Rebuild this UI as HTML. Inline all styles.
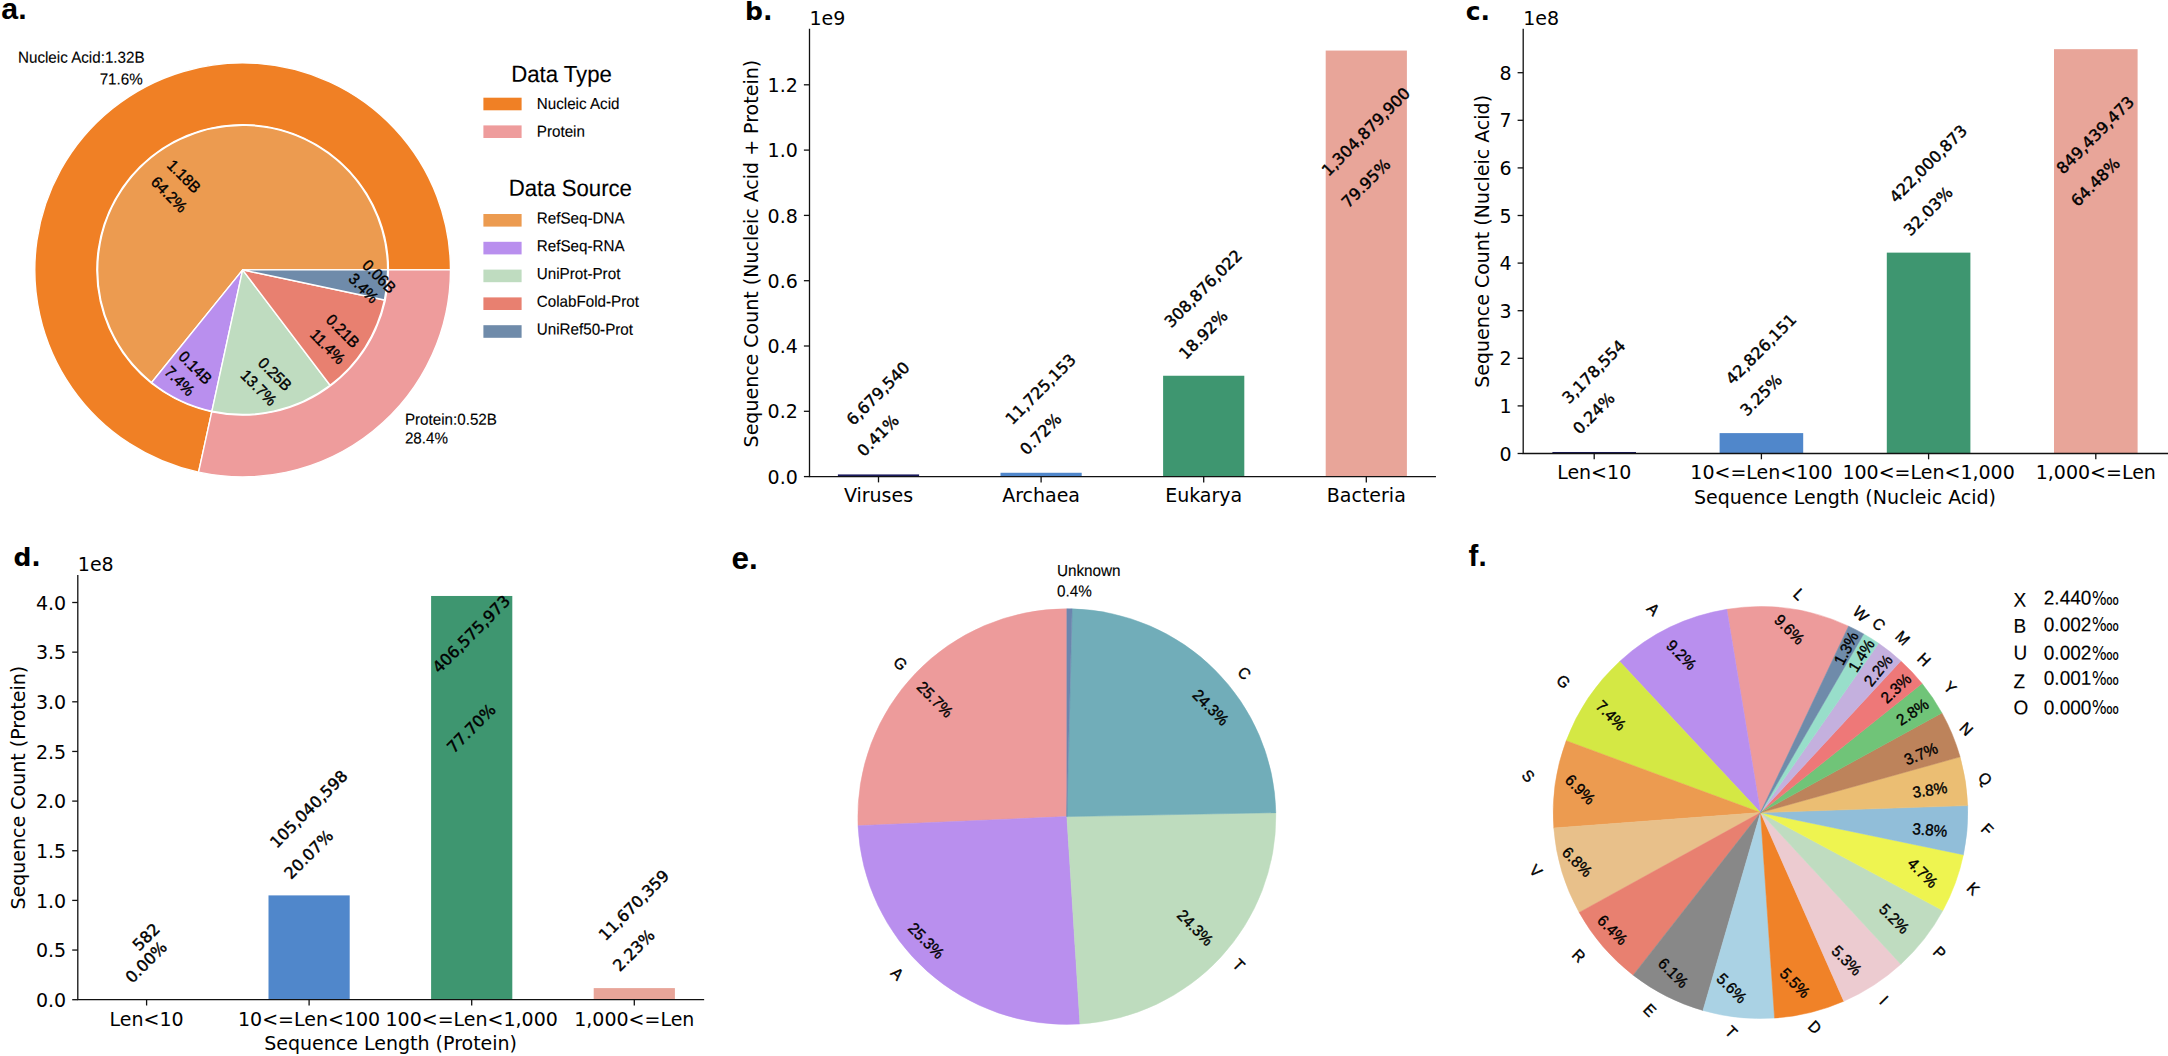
<!DOCTYPE html>
<html lang="en"><head><meta charset="utf-8"><title>Figure</title>
<style>html,body{margin:0;padding:0;background:#fff}svg{display:block}text{fill:#000}</style></head>
<body><svg width="2168" height="1056" viewBox="0 0 2168 1056">
<rect width="2168" height="1056" fill="#fff"/>
<text x="1.30" y="19.30" font-size="30.3" text-anchor="start" font-family="Liberation Sans, Arial, Helvetica, sans-serif" font-weight="bold">a.</text>
<text x="745.10" y="19.60" font-size="25" text-anchor="start" font-family="DejaVu Sans, Liberation Sans, sans-serif" font-weight="bold">b.</text>
<text x="1465.70" y="19.50" font-size="25" text-anchor="start" font-family="DejaVu Sans, Liberation Sans, sans-serif" font-weight="bold">c.</text>
<text x="13.40" y="566.40" font-size="25" text-anchor="start" font-family="DejaVu Sans, Liberation Sans, sans-serif" font-weight="bold">d.</text>
<text x="731.40" y="569.10" font-size="31.5" text-anchor="start" font-family="Liberation Sans, Arial, Helvetica, sans-serif" font-weight="bold">e.</text>
<text x="1468.60" y="565.70" font-size="29.5" text-anchor="start" font-family="Liberation Sans, Arial, Helvetica, sans-serif" font-weight="bold">f.</text>
<path d="M388.45,269.90 L450.50,269.90 A207.85,207.00 0 1 0 198.58,472.19 L211.74,411.80 A145.80,145.20 0 1 1 388.45,269.90 Z" fill="#F08025" stroke="#fff" stroke-width="1.4" stroke-linejoin="round"/>
<path d="M211.74,411.80 L198.58,472.19 A207.85,207.00 0 0 0 450.50,269.90 L388.45,269.90 A145.80,145.20 0 0 1 211.74,411.80 Z" fill="#EE9C9C" stroke="#fff" stroke-width="1.4" stroke-linejoin="round"/>
<path d="M242.65,269.90 L387.65,269.90 A145.00,144.60 0 1 0 151.63,382.47 Z" fill="#EC9B50" stroke="#fff" stroke-width="1.4" stroke-linejoin="round"/>
<path d="M242.65,269.90 L151.63,382.47 A145.00,144.60 0 0 0 211.91,411.21 Z" fill="#B98FEE" stroke="#fff" stroke-width="1.4" stroke-linejoin="round"/>
<path d="M242.65,269.90 L211.91,411.21 A145.00,144.60 0 0 0 330.07,385.26 Z" fill="#BFDCC0" stroke="#fff" stroke-width="1.4" stroke-linejoin="round"/>
<path d="M242.65,269.90 L330.07,385.26 A145.00,144.60 0 0 0 384.48,299.96 Z" fill="#E88070" stroke="#fff" stroke-width="1.4" stroke-linejoin="round"/>
<path d="M242.65,269.90 L384.48,299.96 A145.00,144.60 0 0 0 387.65,269.90 Z" fill="#6F8BAA" stroke="#fff" stroke-width="1.4" stroke-linejoin="round"/>
<text transform="translate(184.00,176.30) rotate(45) scale(1,1.045)" x="0" y="5.23" font-size="15.2" text-anchor="middle" font-family="Liberation Sans, Arial, Helvetica, sans-serif" stroke="#000" stroke-width="0.35">1.18B</text>
<text transform="translate(169.10,194.40) rotate(45) scale(1,1.045)" x="0" y="5.23" font-size="15.2" text-anchor="middle" font-family="Liberation Sans, Arial, Helvetica, sans-serif" stroke="#000" stroke-width="0.35">64.2%</text>
<text transform="translate(195.30,367.60) rotate(45) scale(1,1.045)" x="0" y="5.23" font-size="15.2" text-anchor="middle" font-family="Liberation Sans, Arial, Helvetica, sans-serif" stroke="#000" stroke-width="0.35">0.14B</text>
<text transform="translate(179.60,381.00) rotate(45) scale(1,1.045)" x="0" y="5.23" font-size="15.2" text-anchor="middle" font-family="Liberation Sans, Arial, Helvetica, sans-serif" stroke="#000" stroke-width="0.35">7.4%</text>
<text transform="translate(274.90,374.10) rotate(45) scale(1,1.045)" x="0" y="5.23" font-size="15.2" text-anchor="middle" font-family="Liberation Sans, Arial, Helvetica, sans-serif" stroke="#000" stroke-width="0.35">0.25B</text>
<text transform="translate(258.70,387.70) rotate(45) scale(1,1.045)" x="0" y="5.23" font-size="15.2" text-anchor="middle" font-family="Liberation Sans, Arial, Helvetica, sans-serif" stroke="#000" stroke-width="0.35">13.7%</text>
<text transform="translate(342.80,331.00) rotate(45) scale(1,1.045)" x="0" y="5.23" font-size="15.2" text-anchor="middle" font-family="Liberation Sans, Arial, Helvetica, sans-serif" stroke="#000" stroke-width="0.35">0.21B</text>
<text transform="translate(327.60,346.50) rotate(45) scale(1,1.045)" x="0" y="5.23" font-size="15.2" text-anchor="middle" font-family="Liberation Sans, Arial, Helvetica, sans-serif" stroke="#000" stroke-width="0.35">11.4%</text>
<text transform="translate(379.20,276.50) rotate(45) scale(1,1.045)" x="0" y="5.23" font-size="15.2" text-anchor="middle" font-family="Liberation Sans, Arial, Helvetica, sans-serif" stroke="#000" stroke-width="0.35">0.06B</text>
<text transform="translate(363.50,288.20) rotate(45) scale(1,1.045)" x="0" y="5.23" font-size="15.2" text-anchor="middle" font-family="Liberation Sans, Arial, Helvetica, sans-serif" stroke="#000" stroke-width="0.35">3.4%</text>
<text transform="translate(144.60,62.80) rotate(0.03) scale(1,1.045)" font-size="15.2" text-anchor="end" font-family="Liberation Sans, Arial, Helvetica, sans-serif" stroke="#000" stroke-width="0.12">Nucleic Acid:1.32B</text>
<text transform="translate(142.70,84.50) rotate(0.03) scale(1,1.045)" font-size="15.2" text-anchor="end" font-family="Liberation Sans, Arial, Helvetica, sans-serif" stroke="#000" stroke-width="0.12">71.6%</text>
<text transform="translate(404.90,424.70) rotate(0.03) scale(1,1.045)" font-size="15.2" text-anchor="start" font-family="Liberation Sans, Arial, Helvetica, sans-serif" stroke="#000" stroke-width="0.12">Protein:0.52B</text>
<text transform="translate(404.90,443.40) rotate(0.03) scale(1,1.045)" font-size="15.2" text-anchor="start" font-family="Liberation Sans, Arial, Helvetica, sans-serif" stroke="#000" stroke-width="0.12">28.4%</text>
<text transform="translate(561.50,81.90) rotate(0.03) scale(1,1.045)" font-size="22.2" text-anchor="middle" font-family="Liberation Sans, Arial, Helvetica, sans-serif" stroke="#000" stroke-width="0.12">Data Type</text>
<rect x="483.4" y="97.70" width="38.2" height="12.6" fill="#F08025"/>
<text transform="translate(536.80,109.00) rotate(0.03) scale(1,1.045)" font-size="15.2" text-anchor="start" font-family="Liberation Sans, Arial, Helvetica, sans-serif" stroke="#000" stroke-width="0.12">Nucleic Acid</text>
<rect x="483.4" y="125.40" width="38.2" height="12.6" fill="#EE9C9C"/>
<text transform="translate(536.80,136.70) rotate(0.03) scale(1,1.045)" font-size="15.2" text-anchor="start" font-family="Liberation Sans, Arial, Helvetica, sans-serif" stroke="#000" stroke-width="0.12">Protein</text>
<text transform="translate(570.30,195.90) rotate(0.03) scale(1,1.045)" font-size="22.2" text-anchor="middle" font-family="Liberation Sans, Arial, Helvetica, sans-serif" stroke="#000" stroke-width="0.12">Data Source</text>
<rect x="483.4" y="214.00" width="38.2" height="12.6" fill="#EC9B50"/>
<text transform="translate(536.80,223.40) rotate(0.03) scale(1,1.045)" font-size="15.2" text-anchor="start" font-family="Liberation Sans, Arial, Helvetica, sans-serif" stroke="#000" stroke-width="0.12">RefSeq-DNA</text>
<rect x="483.4" y="241.80" width="38.2" height="12.6" fill="#B98FEE"/>
<text transform="translate(536.80,251.20) rotate(0.03) scale(1,1.045)" font-size="15.2" text-anchor="start" font-family="Liberation Sans, Arial, Helvetica, sans-serif" stroke="#000" stroke-width="0.12">RefSeq-RNA</text>
<rect x="483.4" y="269.60" width="38.2" height="12.6" fill="#BFDCC0"/>
<text transform="translate(536.80,279.00) rotate(0.03) scale(1,1.045)" font-size="15.2" text-anchor="start" font-family="Liberation Sans, Arial, Helvetica, sans-serif" stroke="#000" stroke-width="0.12">UniProt-Prot</text>
<rect x="483.4" y="297.40" width="38.2" height="12.6" fill="#E88070"/>
<text transform="translate(536.80,306.80) rotate(0.03) scale(1,1.045)" font-size="15.2" text-anchor="start" font-family="Liberation Sans, Arial, Helvetica, sans-serif" stroke="#000" stroke-width="0.12">ColabFold-Prot</text>
<rect x="483.4" y="325.20" width="38.2" height="12.6" fill="#6F8BAA"/>
<text transform="translate(536.80,334.60) rotate(0.03) scale(1,1.045)" font-size="15.2" text-anchor="start" font-family="Liberation Sans, Arial, Helvetica, sans-serif" stroke="#000" stroke-width="0.12">UniRef50-Prot</text>
<rect x="837.90" y="474.42" width="81.20" height="2.18" fill="#1a1a5e"/>
<rect x="1000.50" y="472.77" width="81.20" height="3.83" fill="#5087CB"/>
<rect x="1163.10" y="375.75" width="81.20" height="100.85" fill="#3E9670"/>
<rect x="1325.70" y="50.56" width="81.20" height="426.04" fill="#E8A599"/>
<path d="M809.50,29.30 V476.60 H1435.30" fill="none" stroke="#111" stroke-width="1.3" stroke-linecap="square"/>
<path d="M809.50,476.60 h-5.6" stroke="#111" stroke-width="1.3"/>
<text x="797.80" y="483.70" font-size="19" text-anchor="end" font-family="DejaVu Sans, Liberation Sans, sans-serif">0.0</text>
<path d="M809.50,411.30 h-5.6" stroke="#111" stroke-width="1.3"/>
<text x="797.80" y="418.40" font-size="19" text-anchor="end" font-family="DejaVu Sans, Liberation Sans, sans-serif">0.2</text>
<path d="M809.50,346.00 h-5.6" stroke="#111" stroke-width="1.3"/>
<text x="797.80" y="353.10" font-size="19" text-anchor="end" font-family="DejaVu Sans, Liberation Sans, sans-serif">0.4</text>
<path d="M809.50,280.70 h-5.6" stroke="#111" stroke-width="1.3"/>
<text x="797.80" y="287.80" font-size="19" text-anchor="end" font-family="DejaVu Sans, Liberation Sans, sans-serif">0.6</text>
<path d="M809.50,215.40 h-5.6" stroke="#111" stroke-width="1.3"/>
<text x="797.80" y="222.50" font-size="19" text-anchor="end" font-family="DejaVu Sans, Liberation Sans, sans-serif">0.8</text>
<path d="M809.50,150.10 h-5.6" stroke="#111" stroke-width="1.3"/>
<text x="797.80" y="157.20" font-size="19" text-anchor="end" font-family="DejaVu Sans, Liberation Sans, sans-serif">1.0</text>
<path d="M809.50,84.80 h-5.6" stroke="#111" stroke-width="1.3"/>
<text x="797.80" y="91.90" font-size="19" text-anchor="end" font-family="DejaVu Sans, Liberation Sans, sans-serif">1.2</text>
<path d="M878.50,476.60 v5.8" stroke="#111" stroke-width="1.3"/>
<text x="878.50" y="502.10" font-size="19" text-anchor="middle" font-family="DejaVu Sans, Liberation Sans, sans-serif">Viruses</text>
<path d="M1041.10,476.60 v5.8" stroke="#111" stroke-width="1.3"/>
<text x="1041.10" y="502.10" font-size="19" text-anchor="middle" font-family="DejaVu Sans, Liberation Sans, sans-serif">Archaea</text>
<path d="M1203.70,476.60 v5.8" stroke="#111" stroke-width="1.3"/>
<text x="1203.70" y="502.10" font-size="19" text-anchor="middle" font-family="DejaVu Sans, Liberation Sans, sans-serif">Eukarya</text>
<path d="M1366.30,476.60 v5.8" stroke="#111" stroke-width="1.3"/>
<text x="1366.30" y="502.10" font-size="19" text-anchor="middle" font-family="DejaVu Sans, Liberation Sans, sans-serif">Bacteria</text>
<text x="809.50" y="24.60" font-size="19" text-anchor="start" font-family="DejaVu Sans, Liberation Sans, sans-serif">1e9</text>
<text transform="translate(757.50,253.65) rotate(-90)" font-size="19" text-anchor="middle" font-family="DejaVu Sans, Liberation Sans, sans-serif">Sequence Count (Nucleic Acid + Protein)</text>
<text transform="translate(877.90,393.30) rotate(-45)" x="0" y="5.84" font-size="16.0" text-anchor="middle" font-family="DejaVu Sans, Liberation Sans, sans-serif" stroke="#000" stroke-width="0.42">6,679,540</text>
<text transform="translate(877.90,435.30) rotate(-45)" x="0" y="5.84" font-size="16.0" text-anchor="middle" font-family="DejaVu Sans, Liberation Sans, sans-serif" stroke="#000" stroke-width="0.42">0.41%</text>
<text transform="translate(1040.50,389.00) rotate(-45)" x="0" y="5.84" font-size="16.0" text-anchor="middle" font-family="DejaVu Sans, Liberation Sans, sans-serif" stroke="#000" stroke-width="0.42">11,725,153</text>
<text transform="translate(1040.50,433.90) rotate(-45)" x="0" y="5.84" font-size="16.0" text-anchor="middle" font-family="DejaVu Sans, Liberation Sans, sans-serif" stroke="#000" stroke-width="0.42">0.72%</text>
<text transform="translate(1203.10,288.30) rotate(-45)" x="0" y="5.84" font-size="16.0" text-anchor="middle" font-family="DejaVu Sans, Liberation Sans, sans-serif" stroke="#000" stroke-width="0.42">308,876,022</text>
<text transform="translate(1203.10,334.50) rotate(-45)" x="0" y="5.84" font-size="16.0" text-anchor="middle" font-family="DejaVu Sans, Liberation Sans, sans-serif" stroke="#000" stroke-width="0.42">18.92%</text>
<text transform="translate(1365.70,131.50) rotate(-45)" x="0" y="5.84" font-size="16.0" text-anchor="middle" font-family="DejaVu Sans, Liberation Sans, sans-serif" stroke="#000" stroke-width="0.42">1,304,879,900</text>
<text transform="translate(1365.70,183.00) rotate(-45)" x="0" y="5.84" font-size="16.0" text-anchor="middle" font-family="DejaVu Sans, Liberation Sans, sans-serif" stroke="#000" stroke-width="0.42">79.95%</text>
<rect x="1552.40" y="451.99" width="83.60" height="1.51" fill="#1a1a5e"/>
<rect x="1719.60" y="433.11" width="83.60" height="20.39" fill="#5087CB"/>
<rect x="1886.80" y="252.63" width="83.60" height="200.87" fill="#3E9670"/>
<rect x="2054.00" y="49.17" width="83.60" height="404.33" fill="#E8A599"/>
<path d="M1523.20,29.30 V453.50 H2168.00" fill="none" stroke="#111" stroke-width="1.3" stroke-linecap="square"/>
<path d="M1523.20,453.50 h-5.6" stroke="#111" stroke-width="1.3"/>
<text x="1511.50" y="460.60" font-size="19" text-anchor="end" font-family="DejaVu Sans, Liberation Sans, sans-serif">0</text>
<path d="M1523.20,405.90 h-5.6" stroke="#111" stroke-width="1.3"/>
<text x="1511.50" y="413.00" font-size="19" text-anchor="end" font-family="DejaVu Sans, Liberation Sans, sans-serif">1</text>
<path d="M1523.20,358.30 h-5.6" stroke="#111" stroke-width="1.3"/>
<text x="1511.50" y="365.40" font-size="19" text-anchor="end" font-family="DejaVu Sans, Liberation Sans, sans-serif">2</text>
<path d="M1523.20,310.70 h-5.6" stroke="#111" stroke-width="1.3"/>
<text x="1511.50" y="317.80" font-size="19" text-anchor="end" font-family="DejaVu Sans, Liberation Sans, sans-serif">3</text>
<path d="M1523.20,263.10 h-5.6" stroke="#111" stroke-width="1.3"/>
<text x="1511.50" y="270.20" font-size="19" text-anchor="end" font-family="DejaVu Sans, Liberation Sans, sans-serif">4</text>
<path d="M1523.20,215.50 h-5.6" stroke="#111" stroke-width="1.3"/>
<text x="1511.50" y="222.60" font-size="19" text-anchor="end" font-family="DejaVu Sans, Liberation Sans, sans-serif">5</text>
<path d="M1523.20,167.90 h-5.6" stroke="#111" stroke-width="1.3"/>
<text x="1511.50" y="175.00" font-size="19" text-anchor="end" font-family="DejaVu Sans, Liberation Sans, sans-serif">6</text>
<path d="M1523.20,120.30 h-5.6" stroke="#111" stroke-width="1.3"/>
<text x="1511.50" y="127.40" font-size="19" text-anchor="end" font-family="DejaVu Sans, Liberation Sans, sans-serif">7</text>
<path d="M1523.20,72.70 h-5.6" stroke="#111" stroke-width="1.3"/>
<text x="1511.50" y="79.80" font-size="19" text-anchor="end" font-family="DejaVu Sans, Liberation Sans, sans-serif">8</text>
<path d="M1594.20,453.50 v5.8" stroke="#111" stroke-width="1.3"/>
<text x="1594.20" y="479.00" font-size="19" text-anchor="middle" font-family="DejaVu Sans, Liberation Sans, sans-serif">Len&lt;10</text>
<path d="M1761.40,453.50 v5.8" stroke="#111" stroke-width="1.3"/>
<text x="1761.40" y="479.00" font-size="19" text-anchor="middle" font-family="DejaVu Sans, Liberation Sans, sans-serif">10&lt;=Len&lt;100</text>
<path d="M1928.60,453.50 v5.8" stroke="#111" stroke-width="1.3"/>
<text x="1928.60" y="479.00" font-size="19" text-anchor="middle" font-family="DejaVu Sans, Liberation Sans, sans-serif">100&lt;=Len&lt;1,000</text>
<path d="M2095.80,453.50 v5.8" stroke="#111" stroke-width="1.3"/>
<text x="2095.80" y="479.00" font-size="19" text-anchor="middle" font-family="DejaVu Sans, Liberation Sans, sans-serif">1,000&lt;=Len</text>
<text x="1523.20" y="24.60" font-size="19" text-anchor="start" font-family="DejaVu Sans, Liberation Sans, sans-serif">1e8</text>
<text x="1845.00" y="503.50" font-size="19" text-anchor="middle" font-family="DejaVu Sans, Liberation Sans, sans-serif">Sequence Length (Nucleic Acid)</text>
<text transform="translate(1488.60,241.40) rotate(-90)" font-size="19" text-anchor="middle" font-family="DejaVu Sans, Liberation Sans, sans-serif">Sequence Count (Nucleic Acid)</text>
<text transform="translate(1593.60,371.50) rotate(-45)" x="0" y="5.84" font-size="16.0" text-anchor="middle" font-family="DejaVu Sans, Liberation Sans, sans-serif" stroke="#000" stroke-width="0.42">3,178,554</text>
<text transform="translate(1593.60,413.10) rotate(-45)" x="0" y="5.84" font-size="16.0" text-anchor="middle" font-family="DejaVu Sans, Liberation Sans, sans-serif" stroke="#000" stroke-width="0.42">0.24%</text>
<text transform="translate(1760.80,348.90) rotate(-45)" x="0" y="5.84" font-size="16.0" text-anchor="middle" font-family="DejaVu Sans, Liberation Sans, sans-serif" stroke="#000" stroke-width="0.42">42,826,151</text>
<text transform="translate(1760.80,394.80) rotate(-45)" x="0" y="5.84" font-size="16.0" text-anchor="middle" font-family="DejaVu Sans, Liberation Sans, sans-serif" stroke="#000" stroke-width="0.42">3.25%</text>
<text transform="translate(1928.00,163.60) rotate(-45)" x="0" y="5.84" font-size="16.0" text-anchor="middle" font-family="DejaVu Sans, Liberation Sans, sans-serif" stroke="#000" stroke-width="0.42">422,000,873</text>
<text transform="translate(1928.00,211.00) rotate(-45)" x="0" y="5.84" font-size="16.0" text-anchor="middle" font-family="DejaVu Sans, Liberation Sans, sans-serif" stroke="#000" stroke-width="0.42">32.03%</text>
<text transform="translate(2095.20,134.80) rotate(-45)" x="0" y="5.84" font-size="16.0" text-anchor="middle" font-family="DejaVu Sans, Liberation Sans, sans-serif" stroke="#000" stroke-width="0.42">849,439,473</text>
<text transform="translate(2095.20,181.90) rotate(-45)" x="0" y="5.84" font-size="16.0" text-anchor="middle" font-family="DejaVu Sans, Liberation Sans, sans-serif" stroke="#000" stroke-width="0.42">64.48%</text>
<rect x="106.00" y="999.70" width="81.20" height="0.00" fill="#1a1a5e"/>
<rect x="268.50" y="895.39" width="81.20" height="104.31" fill="#5087CB"/>
<rect x="431.10" y="595.97" width="81.20" height="403.73" fill="#3E9670"/>
<rect x="593.70" y="988.11" width="81.20" height="11.59" fill="#E8A599"/>
<path d="M77.80,575.60 V999.70 H703.50" fill="none" stroke="#111" stroke-width="1.3" stroke-linecap="square"/>
<path d="M77.80,999.70 h-5.6" stroke="#111" stroke-width="1.3"/>
<text x="66.10" y="1006.80" font-size="19" text-anchor="end" font-family="DejaVu Sans, Liberation Sans, sans-serif">0.0</text>
<path d="M77.80,950.05 h-5.6" stroke="#111" stroke-width="1.3"/>
<text x="66.10" y="957.15" font-size="19" text-anchor="end" font-family="DejaVu Sans, Liberation Sans, sans-serif">0.5</text>
<path d="M77.80,900.40 h-5.6" stroke="#111" stroke-width="1.3"/>
<text x="66.10" y="907.50" font-size="19" text-anchor="end" font-family="DejaVu Sans, Liberation Sans, sans-serif">1.0</text>
<path d="M77.80,850.75 h-5.6" stroke="#111" stroke-width="1.3"/>
<text x="66.10" y="857.85" font-size="19" text-anchor="end" font-family="DejaVu Sans, Liberation Sans, sans-serif">1.5</text>
<path d="M77.80,801.10 h-5.6" stroke="#111" stroke-width="1.3"/>
<text x="66.10" y="808.20" font-size="19" text-anchor="end" font-family="DejaVu Sans, Liberation Sans, sans-serif">2.0</text>
<path d="M77.80,751.45 h-5.6" stroke="#111" stroke-width="1.3"/>
<text x="66.10" y="758.55" font-size="19" text-anchor="end" font-family="DejaVu Sans, Liberation Sans, sans-serif">2.5</text>
<path d="M77.80,701.80 h-5.6" stroke="#111" stroke-width="1.3"/>
<text x="66.10" y="708.90" font-size="19" text-anchor="end" font-family="DejaVu Sans, Liberation Sans, sans-serif">3.0</text>
<path d="M77.80,652.15 h-5.6" stroke="#111" stroke-width="1.3"/>
<text x="66.10" y="659.25" font-size="19" text-anchor="end" font-family="DejaVu Sans, Liberation Sans, sans-serif">3.5</text>
<path d="M77.80,602.50 h-5.6" stroke="#111" stroke-width="1.3"/>
<text x="66.10" y="609.60" font-size="19" text-anchor="end" font-family="DejaVu Sans, Liberation Sans, sans-serif">4.0</text>
<path d="M146.60,999.70 v5.8" stroke="#111" stroke-width="1.3"/>
<text x="146.60" y="1025.50" font-size="19" text-anchor="middle" font-family="DejaVu Sans, Liberation Sans, sans-serif">Len&lt;10</text>
<path d="M309.10,999.70 v5.8" stroke="#111" stroke-width="1.3"/>
<text x="309.10" y="1025.50" font-size="19" text-anchor="middle" font-family="DejaVu Sans, Liberation Sans, sans-serif">10&lt;=Len&lt;100</text>
<path d="M471.70,999.70 v5.8" stroke="#111" stroke-width="1.3"/>
<text x="471.70" y="1025.50" font-size="19" text-anchor="middle" font-family="DejaVu Sans, Liberation Sans, sans-serif">100&lt;=Len&lt;1,000</text>
<path d="M634.30,999.70 v5.8" stroke="#111" stroke-width="1.3"/>
<text x="634.30" y="1025.50" font-size="19" text-anchor="middle" font-family="DejaVu Sans, Liberation Sans, sans-serif">1,000&lt;=Len</text>
<text x="77.80" y="570.90" font-size="19" text-anchor="start" font-family="DejaVu Sans, Liberation Sans, sans-serif">1e8</text>
<text x="390.65" y="1050.00" font-size="19" text-anchor="middle" font-family="DejaVu Sans, Liberation Sans, sans-serif">Sequence Length (Protein)</text>
<text transform="translate(25.10,787.65) rotate(-90)" font-size="19" text-anchor="middle" font-family="DejaVu Sans, Liberation Sans, sans-serif">Sequence Count (Protein)</text>
<text transform="translate(146.00,936.80) rotate(-45)" x="0" y="5.84" font-size="16.0" text-anchor="middle" font-family="DejaVu Sans, Liberation Sans, sans-serif" stroke="#000" stroke-width="0.42">582</text>
<text transform="translate(146.00,962.00) rotate(-45)" x="0" y="5.84" font-size="16.0" text-anchor="middle" font-family="DejaVu Sans, Liberation Sans, sans-serif" stroke="#000" stroke-width="0.42">0.00%</text>
<text transform="translate(308.50,808.90) rotate(-45)" x="0" y="5.84" font-size="16.0" text-anchor="middle" font-family="DejaVu Sans, Liberation Sans, sans-serif" stroke="#000" stroke-width="0.42">105,040,598</text>
<text transform="translate(308.50,854.30) rotate(-45)" x="0" y="5.84" font-size="16.0" text-anchor="middle" font-family="DejaVu Sans, Liberation Sans, sans-serif" stroke="#000" stroke-width="0.42">20.07%</text>
<text transform="translate(471.10,634.00) rotate(-45)" x="0" y="5.84" font-size="16.0" text-anchor="middle" font-family="DejaVu Sans, Liberation Sans, sans-serif" stroke="#000" stroke-width="0.42">406,575,973</text>
<text transform="translate(471.10,728.20) rotate(-45)" x="0" y="5.84" font-size="16.0" text-anchor="middle" font-family="DejaVu Sans, Liberation Sans, sans-serif" stroke="#000" stroke-width="0.42">77.70%</text>
<text transform="translate(633.70,905.00) rotate(-45)" x="0" y="5.84" font-size="16.0" text-anchor="middle" font-family="DejaVu Sans, Liberation Sans, sans-serif" stroke="#000" stroke-width="0.42">11,670,359</text>
<text transform="translate(633.70,950.10) rotate(-45)" x="0" y="5.84" font-size="16.0" text-anchor="middle" font-family="DejaVu Sans, Liberation Sans, sans-serif" stroke="#000" stroke-width="0.42">2.23%</text>
<path d="M1066.85,816.60 L1066.85,608.80 A209.00,207.80 0 0 0 858.05,825.74 Z" fill="#ED9B9B" stroke="#ED9B9B" stroke-width="0.5" stroke-linejoin="round"/>
<path d="M1066.85,816.60 L858.05,825.74 A209.00,207.80 0 0 0 1079.97,1023.99 Z" fill="#B98FEE" stroke="#B98FEE" stroke-width="0.5" stroke-linejoin="round"/>
<path d="M1066.85,816.60 L1079.97,1023.99 A209.00,207.80 0 0 0 1275.81,812.68 Z" fill="#BEDCBE" stroke="#BEDCBE" stroke-width="0.5" stroke-linejoin="round"/>
<path d="M1066.85,816.60 L1275.81,812.68 A209.00,207.80 0 0 0 1072.10,608.87 Z" fill="#71ADB9" stroke="#71ADB9" stroke-width="0.5" stroke-linejoin="round"/>
<path d="M1066.85,816.60 L1072.10,608.87 A209.00,207.80 0 0 0 1066.85,608.80 Z" fill="#6C86AE" stroke="#6C86AE" stroke-width="0.5" stroke-linejoin="round"/>
<text transform="translate(934.90,699.40) rotate(45) scale(1,1.045)" x="0" y="5.26" font-size="15.3" text-anchor="middle" font-family="Liberation Sans, Arial, Helvetica, sans-serif" stroke="#000" stroke-width="0.35">25.7%</text>
<text transform="translate(900.30,663.60) rotate(45) scale(1,1.045)" x="0" y="5.26" font-size="15.3" text-anchor="middle" font-family="Liberation Sans, Arial, Helvetica, sans-serif" stroke="#000" stroke-width="0.35">G</text>
<text transform="translate(1210.80,707.40) rotate(45) scale(1,1.045)" x="0" y="5.26" font-size="15.3" text-anchor="middle" font-family="Liberation Sans, Arial, Helvetica, sans-serif" stroke="#000" stroke-width="0.35">24.3%</text>
<text transform="translate(1244.40,673.20) rotate(45) scale(1,1.045)" x="0" y="5.26" font-size="15.3" text-anchor="middle" font-family="Liberation Sans, Arial, Helvetica, sans-serif" stroke="#000" stroke-width="0.35">C</text>
<text transform="translate(926.20,940.70) rotate(45) scale(1,1.045)" x="0" y="5.26" font-size="15.3" text-anchor="middle" font-family="Liberation Sans, Arial, Helvetica, sans-serif" stroke="#000" stroke-width="0.35">25.3%</text>
<text transform="translate(897.30,973.60) rotate(45) scale(1,1.045)" x="0" y="5.26" font-size="15.3" text-anchor="middle" font-family="Liberation Sans, Arial, Helvetica, sans-serif" stroke="#000" stroke-width="0.35">A</text>
<text transform="translate(1195.30,927.70) rotate(45) scale(1,1.045)" x="0" y="5.26" font-size="15.3" text-anchor="middle" font-family="Liberation Sans, Arial, Helvetica, sans-serif" stroke="#000" stroke-width="0.35">24.3%</text>
<text transform="translate(1238.70,964.80) rotate(45) scale(1,1.045)" x="0" y="5.26" font-size="15.3" text-anchor="middle" font-family="Liberation Sans, Arial, Helvetica, sans-serif" stroke="#000" stroke-width="0.35">T</text>
<text transform="translate(1056.90,576.00) rotate(0.03) scale(1,1.045)" font-size="15.3" text-anchor="start" font-family="Liberation Sans, Arial, Helvetica, sans-serif" stroke="#000" stroke-width="0.12">Unknown</text>
<text transform="translate(1057.00,596.60) rotate(0.03) scale(1,1.045)" font-size="15.3" text-anchor="start" font-family="Liberation Sans, Arial, Helvetica, sans-serif" stroke="#000" stroke-width="0.12">0.4%</text>
<path d="M1760.50,812.60 L1848.60,626.13 A207.30,206.00 0 0 0 1726.82,609.34 Z" fill="#ED9B9B" stroke="#ED9B9B" stroke-width="0.5" stroke-linejoin="round"/>
<path d="M1760.50,812.60 L1726.82,609.34 A207.30,206.00 0 0 0 1619.65,661.45 Z" fill="#B98FEE" stroke="#B98FEE" stroke-width="0.5" stroke-linejoin="round"/>
<path d="M1760.50,812.60 L1619.65,661.45 A207.30,206.00 0 0 0 1566.20,740.79 Z" fill="#D4E844" stroke="#D4E844" stroke-width="0.5" stroke-linejoin="round"/>
<path d="M1760.50,812.60 L1566.20,740.79 A207.30,206.00 0 0 0 1553.78,828.05 Z" fill="#EC9B50" stroke="#EC9B50" stroke-width="0.5" stroke-linejoin="round"/>
<path d="M1760.50,812.60 L1553.78,828.05 A207.30,206.00 0 0 0 1579.19,912.47 Z" fill="#E8C08A" stroke="#E8C08A" stroke-width="0.5" stroke-linejoin="round"/>
<path d="M1760.50,812.60 L1579.19,912.47 A207.30,206.00 0 0 0 1633.16,975.15 Z" fill="#E88070" stroke="#E88070" stroke-width="0.5" stroke-linejoin="round"/>
<path d="M1760.50,812.60 L1633.16,975.15 A207.30,206.00 0 0 0 1703.01,1010.52 Z" fill="#888888" stroke="#888888" stroke-width="0.5" stroke-linejoin="round"/>
<path d="M1760.50,812.60 L1703.01,1010.52 A207.30,206.00 0 0 0 1774.60,1018.12 Z" fill="#AAD2E4" stroke="#AAD2E4" stroke-width="0.5" stroke-linejoin="round"/>
<path d="M1760.50,812.60 L1774.60,1018.12 A207.30,206.00 0 0 0 1843.82,1001.23 Z" fill="#F08228" stroke="#F08228" stroke-width="0.5" stroke-linejoin="round"/>
<path d="M1760.50,812.60 L1843.82,1001.23 A207.30,206.00 0 0 0 1900.82,964.24 Z" fill="#ECCBD0" stroke="#ECCBD0" stroke-width="0.5" stroke-linejoin="round"/>
<path d="M1760.50,812.60 L1900.82,964.24 A207.30,206.00 0 0 0 1942.85,910.58 Z" fill="#BFDCC0" stroke="#BFDCC0" stroke-width="0.5" stroke-linejoin="round"/>
<path d="M1760.50,812.60 L1942.85,910.58 A207.30,206.00 0 0 0 1963.42,854.73 Z" fill="#EEF450" stroke="#EEF450" stroke-width="0.5" stroke-linejoin="round"/>
<path d="M1760.50,812.60 L1963.42,854.73 A207.30,206.00 0 0 0 1967.68,805.59 Z" fill="#91BED9" stroke="#91BED9" stroke-width="0.5" stroke-linejoin="round"/>
<path d="M1760.50,812.60 L1967.68,805.59 A207.30,206.00 0 0 0 1960.07,756.86 Z" fill="#EBBE73" stroke="#EBBE73" stroke-width="0.5" stroke-linejoin="round"/>
<path d="M1760.50,812.60 L1960.07,756.86 A207.30,206.00 0 0 0 1941.90,712.89 Z" fill="#BD835B" stroke="#BD835B" stroke-width="0.5" stroke-linejoin="round"/>
<path d="M1760.50,812.60 L1941.90,712.89 A207.30,206.00 0 0 0 1922.06,683.52 Z" fill="#70C478" stroke="#70C478" stroke-width="0.5" stroke-linejoin="round"/>
<path d="M1760.50,812.60 L1922.06,683.52 A207.30,206.00 0 0 0 1900.82,660.96 Z" fill="#EE7878" stroke="#EE7878" stroke-width="0.5" stroke-linejoin="round"/>
<path d="M1760.50,812.60 L1900.82,660.96 A207.30,206.00 0 0 0 1878.66,643.34 Z" fill="#C4B0DE" stroke="#C4B0DE" stroke-width="0.5" stroke-linejoin="round"/>
<path d="M1760.50,812.60 L1878.66,643.34 A207.30,206.00 0 0 0 1863.68,633.93 Z" fill="#98DECA" stroke="#98DECA" stroke-width="0.5" stroke-linejoin="round"/>
<path d="M1760.50,812.60 L1863.68,633.93 A207.30,206.00 0 0 0 1848.60,626.13 Z" fill="#6F8BAA" stroke="#6F8BAA" stroke-width="0.5" stroke-linejoin="round"/>
<text transform="translate(1799.10,594.30) rotate(45) scale(1,1.045)" x="0" y="5.26" font-size="15.3" text-anchor="middle" font-family="Liberation Sans, Arial, Helvetica, sans-serif" stroke="#000" stroke-width="0.35">L</text>
<text transform="translate(1860.70,614.00) rotate(45) scale(1,1.045)" x="0" y="5.26" font-size="15.3" text-anchor="middle" font-family="Liberation Sans, Arial, Helvetica, sans-serif" stroke="#000" stroke-width="0.35">W</text>
<text transform="translate(1878.90,624.30) rotate(45) scale(1,1.045)" x="0" y="5.26" font-size="15.3" text-anchor="middle" font-family="Liberation Sans, Arial, Helvetica, sans-serif" stroke="#000" stroke-width="0.35">C</text>
<text transform="translate(1902.70,638.00) rotate(45) scale(1,1.045)" x="0" y="5.26" font-size="15.3" text-anchor="middle" font-family="Liberation Sans, Arial, Helvetica, sans-serif" stroke="#000" stroke-width="0.35">M</text>
<text transform="translate(1924.10,659.50) rotate(45) scale(1,1.045)" x="0" y="5.26" font-size="15.3" text-anchor="middle" font-family="Liberation Sans, Arial, Helvetica, sans-serif" stroke="#000" stroke-width="0.35">H</text>
<text transform="translate(1950.00,687.80) rotate(45) scale(1,1.045)" x="0" y="5.26" font-size="15.3" text-anchor="middle" font-family="Liberation Sans, Arial, Helvetica, sans-serif" stroke="#000" stroke-width="0.35">Y</text>
<text transform="translate(1966.40,728.90) rotate(45) scale(1,1.045)" x="0" y="5.26" font-size="15.3" text-anchor="middle" font-family="Liberation Sans, Arial, Helvetica, sans-serif" stroke="#000" stroke-width="0.35">N</text>
<text transform="translate(1985.00,778.90) rotate(45) scale(1,1.045)" x="0" y="5.26" font-size="15.3" text-anchor="middle" font-family="Liberation Sans, Arial, Helvetica, sans-serif" stroke="#000" stroke-width="0.35">Q</text>
<text transform="translate(1987.20,829.40) rotate(45) scale(1,1.045)" x="0" y="5.26" font-size="15.3" text-anchor="middle" font-family="Liberation Sans, Arial, Helvetica, sans-serif" stroke="#000" stroke-width="0.35">F</text>
<text transform="translate(1973.20,888.60) rotate(45) scale(1,1.045)" x="0" y="5.26" font-size="15.3" text-anchor="middle" font-family="Liberation Sans, Arial, Helvetica, sans-serif" stroke="#000" stroke-width="0.35">K</text>
<text transform="translate(1939.50,952.70) rotate(45) scale(1,1.045)" x="0" y="5.26" font-size="15.3" text-anchor="middle" font-family="Liberation Sans, Arial, Helvetica, sans-serif" stroke="#000" stroke-width="0.35">P</text>
<text transform="translate(1883.90,1000.00) rotate(45) scale(1,1.045)" x="0" y="5.26" font-size="15.3" text-anchor="middle" font-family="Liberation Sans, Arial, Helvetica, sans-serif" stroke="#000" stroke-width="0.35">I</text>
<text transform="translate(1814.70,1027.30) rotate(45) scale(1,1.045)" x="0" y="5.26" font-size="15.3" text-anchor="middle" font-family="Liberation Sans, Arial, Helvetica, sans-serif" stroke="#000" stroke-width="0.35">D</text>
<text transform="translate(1731.10,1031.80) rotate(45) scale(1,1.045)" x="0" y="5.26" font-size="15.3" text-anchor="middle" font-family="Liberation Sans, Arial, Helvetica, sans-serif" stroke="#000" stroke-width="0.35">T</text>
<text transform="translate(1649.80,1010.20) rotate(45) scale(1,1.045)" x="0" y="5.26" font-size="15.3" text-anchor="middle" font-family="Liberation Sans, Arial, Helvetica, sans-serif" stroke="#000" stroke-width="0.35">E</text>
<text transform="translate(1578.90,955.70) rotate(45) scale(1,1.045)" x="0" y="5.26" font-size="15.3" text-anchor="middle" font-family="Liberation Sans, Arial, Helvetica, sans-serif" stroke="#000" stroke-width="0.35">R</text>
<text transform="translate(1535.80,871.00) rotate(45) scale(1,1.045)" x="0" y="5.26" font-size="15.3" text-anchor="middle" font-family="Liberation Sans, Arial, Helvetica, sans-serif" stroke="#000" stroke-width="0.35">V</text>
<text transform="translate(1528.30,776.00) rotate(45) scale(1,1.045)" x="0" y="5.26" font-size="15.3" text-anchor="middle" font-family="Liberation Sans, Arial, Helvetica, sans-serif" stroke="#000" stroke-width="0.35">S</text>
<text transform="translate(1563.40,681.60) rotate(45) scale(1,1.045)" x="0" y="5.26" font-size="15.3" text-anchor="middle" font-family="Liberation Sans, Arial, Helvetica, sans-serif" stroke="#000" stroke-width="0.35">G</text>
<text transform="translate(1653.30,609.20) rotate(45) scale(1,1.045)" x="0" y="5.26" font-size="15.3" text-anchor="middle" font-family="Liberation Sans, Arial, Helvetica, sans-serif" stroke="#000" stroke-width="0.35">A</text>
<text transform="translate(1789.50,629.30) rotate(45) scale(1,1.045)" x="0" y="5.26" font-size="15.3" text-anchor="middle" font-family="Liberation Sans, Arial, Helvetica, sans-serif" stroke="#000" stroke-width="0.35">9.6%</text>
<text transform="translate(1846.20,648.30) rotate(-62.5) scale(1,1.045)" x="0" y="5.26" font-size="15.3" text-anchor="middle" font-family="Liberation Sans, Arial, Helvetica, sans-serif" stroke="#000" stroke-width="0.35">1.3%</text>
<text transform="translate(1861.40,655.50) rotate(-57.7) scale(1,1.045)" x="0" y="5.26" font-size="15.3" text-anchor="middle" font-family="Liberation Sans, Arial, Helvetica, sans-serif" stroke="#000" stroke-width="0.35">1.4%</text>
<text transform="translate(1878.20,670.50) rotate(-51.3) scale(1,1.045)" x="0" y="5.26" font-size="15.3" text-anchor="middle" font-family="Liberation Sans, Arial, Helvetica, sans-serif" stroke="#000" stroke-width="0.35">2.2%</text>
<text transform="translate(1895.90,688.40) rotate(-43.1) scale(1,1.045)" x="0" y="5.26" font-size="15.3" text-anchor="middle" font-family="Liberation Sans, Arial, Helvetica, sans-serif" stroke="#000" stroke-width="0.35">2.3%</text>
<text transform="translate(1912.50,712.00) rotate(-33.9) scale(1,1.045)" x="0" y="5.26" font-size="15.3" text-anchor="middle" font-family="Liberation Sans, Arial, Helvetica, sans-serif" stroke="#000" stroke-width="0.35">2.8%</text>
<text transform="translate(1920.90,753.90) rotate(-22.3) scale(1,1.045)" x="0" y="5.26" font-size="15.3" text-anchor="middle" font-family="Liberation Sans, Arial, Helvetica, sans-serif" stroke="#000" stroke-width="0.35">3.7%</text>
<text transform="translate(1929.80,790.00) rotate(-8.8) scale(1,1.045)" x="0" y="5.26" font-size="15.3" text-anchor="middle" font-family="Liberation Sans, Arial, Helvetica, sans-serif" stroke="#000" stroke-width="0.35">3.8%</text>
<text transform="translate(1929.80,830.00) rotate(4.9) scale(1,1.045)" x="0" y="5.26" font-size="15.3" text-anchor="middle" font-family="Liberation Sans, Arial, Helvetica, sans-serif" stroke="#000" stroke-width="0.35">3.8%</text>
<text transform="translate(1922.70,873.00) rotate(45) scale(1,1.045)" x="0" y="5.26" font-size="15.3" text-anchor="middle" font-family="Liberation Sans, Arial, Helvetica, sans-serif" stroke="#000" stroke-width="0.35">4.7%</text>
<text transform="translate(1894.10,918.60) rotate(45) scale(1,1.045)" x="0" y="5.26" font-size="15.3" text-anchor="middle" font-family="Liberation Sans, Arial, Helvetica, sans-serif" stroke="#000" stroke-width="0.35">5.2%</text>
<text transform="translate(1846.60,960.50) rotate(45) scale(1,1.045)" x="0" y="5.26" font-size="15.3" text-anchor="middle" font-family="Liberation Sans, Arial, Helvetica, sans-serif" stroke="#000" stroke-width="0.35">5.3%</text>
<text transform="translate(1795.00,982.80) rotate(45) scale(1,1.045)" x="0" y="5.26" font-size="15.3" text-anchor="middle" font-family="Liberation Sans, Arial, Helvetica, sans-serif" stroke="#000" stroke-width="0.35">5.5%</text>
<text transform="translate(1731.80,988.20) rotate(45) scale(1,1.045)" x="0" y="5.26" font-size="15.3" text-anchor="middle" font-family="Liberation Sans, Arial, Helvetica, sans-serif" stroke="#000" stroke-width="0.35">5.6%</text>
<text transform="translate(1673.20,973.00) rotate(45) scale(1,1.045)" x="0" y="5.26" font-size="15.3" text-anchor="middle" font-family="Liberation Sans, Arial, Helvetica, sans-serif" stroke="#000" stroke-width="0.35">6.1%</text>
<text transform="translate(1612.50,929.80) rotate(45) scale(1,1.045)" x="0" y="5.26" font-size="15.3" text-anchor="middle" font-family="Liberation Sans, Arial, Helvetica, sans-serif" stroke="#000" stroke-width="0.35">6.4%</text>
<text transform="translate(1577.30,861.80) rotate(45) scale(1,1.045)" x="0" y="5.26" font-size="15.3" text-anchor="middle" font-family="Liberation Sans, Arial, Helvetica, sans-serif" stroke="#000" stroke-width="0.35">6.8%</text>
<text transform="translate(1580.20,789.40) rotate(45) scale(1,1.045)" x="0" y="5.26" font-size="15.3" text-anchor="middle" font-family="Liberation Sans, Arial, Helvetica, sans-serif" stroke="#000" stroke-width="0.35">6.9%</text>
<text transform="translate(1610.90,715.50) rotate(45) scale(1,1.045)" x="0" y="5.26" font-size="15.3" text-anchor="middle" font-family="Liberation Sans, Arial, Helvetica, sans-serif" stroke="#000" stroke-width="0.35">7.4%</text>
<text transform="translate(1681.40,654.80) rotate(45) scale(1,1.045)" x="0" y="5.26" font-size="15.3" text-anchor="middle" font-family="Liberation Sans, Arial, Helvetica, sans-serif" stroke="#000" stroke-width="0.35">9.2%</text>
<text transform="translate(2013.50,606.70) rotate(0.03) scale(1,1.045)" font-size="19.0" text-anchor="start" font-family="Liberation Sans, Arial, Helvetica, sans-serif" stroke="#000" stroke-width="0.12">X</text>
<text transform="translate(2043.80,604.50) rotate(0.03) scale(1,1.045)" font-size="19.0" text-anchor="start" font-family="Liberation Sans, Arial, Helvetica, sans-serif" stroke="#000" stroke-width="0.12">2.440</text>
<text transform="translate(2091.64,604.5) scale(0.85,1)" font-size="18.6" font-family="DejaVu Sans, Liberation Sans, sans-serif">‱</text>
<text transform="translate(2013.50,632.80) rotate(0.03) scale(1,1.045)" font-size="19.0" text-anchor="start" font-family="Liberation Sans, Arial, Helvetica, sans-serif" stroke="#000" stroke-width="0.12">B</text>
<text transform="translate(2043.80,631.20) rotate(0.03) scale(1,1.045)" font-size="19.0" text-anchor="start" font-family="Liberation Sans, Arial, Helvetica, sans-serif" stroke="#000" stroke-width="0.12">0.002</text>
<text transform="translate(2091.64,631.2) scale(0.85,1)" font-size="18.6" font-family="DejaVu Sans, Liberation Sans, sans-serif">‱</text>
<text transform="translate(2013.50,659.50) rotate(0.03) scale(1,1.045)" font-size="19.0" text-anchor="start" font-family="Liberation Sans, Arial, Helvetica, sans-serif" stroke="#000" stroke-width="0.12">U</text>
<text transform="translate(2043.80,659.60) rotate(0.03) scale(1,1.045)" font-size="19.0" text-anchor="start" font-family="Liberation Sans, Arial, Helvetica, sans-serif" stroke="#000" stroke-width="0.12">0.002</text>
<text transform="translate(2091.64,659.6) scale(0.85,1)" font-size="18.6" font-family="DejaVu Sans, Liberation Sans, sans-serif">‱</text>
<text transform="translate(2013.50,688.20) rotate(0.03) scale(1,1.045)" font-size="19.0" text-anchor="start" font-family="Liberation Sans, Arial, Helvetica, sans-serif" stroke="#000" stroke-width="0.12">Z</text>
<text transform="translate(2043.80,684.80) rotate(0.03) scale(1,1.045)" font-size="19.0" text-anchor="start" font-family="Liberation Sans, Arial, Helvetica, sans-serif" stroke="#000" stroke-width="0.12">0.001</text>
<text transform="translate(2091.64,684.8000000000001) scale(0.85,1)" font-size="18.6" font-family="DejaVu Sans, Liberation Sans, sans-serif">‱</text>
<text transform="translate(2013.50,714.20) rotate(0.03) scale(1,1.045)" font-size="19.0" text-anchor="start" font-family="Liberation Sans, Arial, Helvetica, sans-serif" stroke="#000" stroke-width="0.12">O</text>
<text transform="translate(2043.80,714.30) rotate(0.03) scale(1,1.045)" font-size="19.0" text-anchor="start" font-family="Liberation Sans, Arial, Helvetica, sans-serif" stroke="#000" stroke-width="0.12">0.000</text>
<text transform="translate(2091.64,714.3000000000001) scale(0.85,1)" font-size="18.6" font-family="DejaVu Sans, Liberation Sans, sans-serif">‱</text>
</svg></body></html>
